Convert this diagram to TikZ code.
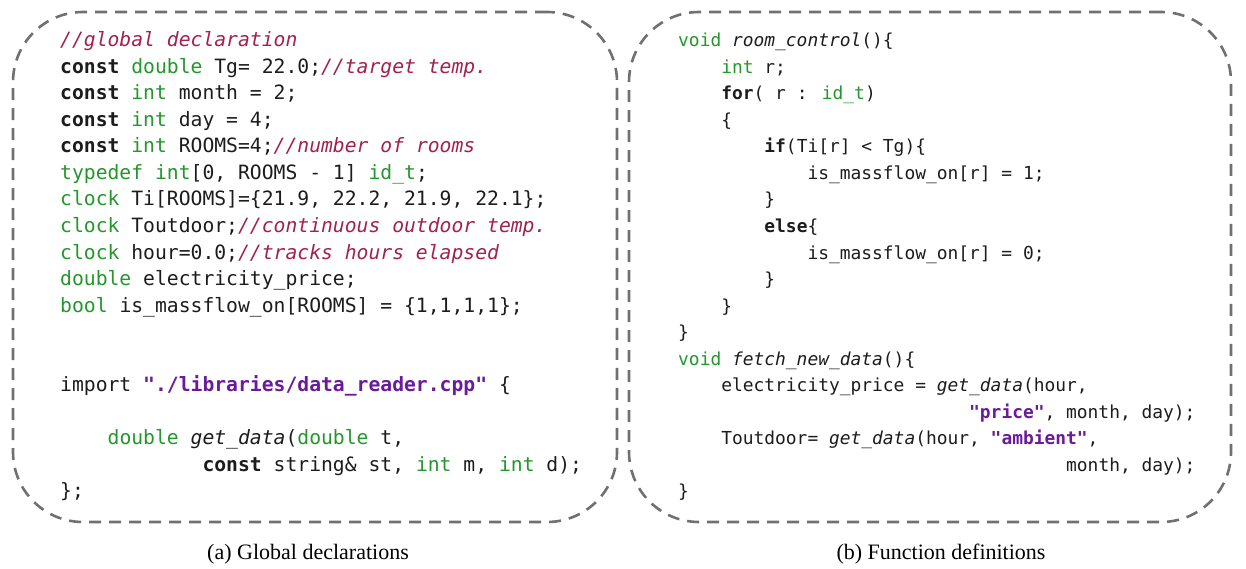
\documentclass[tikz,border=0pt]{standalone}
\usepackage{fontspec}
\setmainfont{Liberation Serif}
\newfontfamily\codefont[Ligatures=TeXOff]{DejaVu Sans Mono}

\definecolor{typegreen}{HTML}{23972B}
\definecolor{commentred}{HTML}{A3204F}
\definecolor{strpurple}{HTML}{6A1B9A}
\definecolor{codeink}{HTML}{1C1C1C}
\definecolor{boxgray}{HTML}{707070}

% syntax highlighting helpers
\newcommand\kw[1]{\textbf{#1}}
\newcommand\ty[1]{\textcolor{typegreen}{#1}}
\newcommand\cm[1]{\textcolor{commentred}{\textit{#1}}}
\newcommand\str[1]{\textcolor{strpurple}{\textbf{#1}}}
\newcommand\fn[1]{\textit{#1}}
\newlength\cw
\newcommand\ind[1]{\hspace*{#1\cw}}

\tikzset{
  codebox/.style={draw=boxgray, line width=2.6pt, dash pattern=on 12pt off 8pt,
    rounded corners=70pt, inner sep=0pt},
  codeA/.style={anchor=base west, inner sep=0pt, text=codeink,
    font=\codefont\fontsize{19.7}{26.5}\selectfont\settowidth{\cw}{0}},
  codeB/.style={anchor=base west, inner sep=0pt, text=codeink,
    font=\codefont\fontsize{17.9}{26.5}\selectfont\settowidth{\cw}{0}},
  caption/.style={anchor=base, inner sep=0pt, font=\fontsize{22}{26}\selectfont},
}

\begin{document}
\begin{tikzpicture}[x=1pt, y=-1pt]
\useasboundingbox (0,0) rectangle (1246,569);

% frames
\node[codebox, minimum width=604pt, minimum height=510pt] (boxA) at (315,267) {};
\node[codebox, minimum width=602pt, minimum height=510pt] (boxB) at (930,267) {};

% (a) global declarations
\node[codeA] (a1)  at (60,47)    {\cm{//global declaration}};
\node[codeA] (a2)  at (60,73.5)  {\kw{const} \ty{double} Tg= 22.0;\cm{//target temp.}};
\node[codeA] (a3)  at (60,100)   {\kw{const} \ty{int} month = 2;};
\node[codeA] (a4)  at (60,126.5) {\kw{const} \ty{int} day = 4;};
\node[codeA] (a5)  at (60,153)   {\kw{const} \ty{int} ROOMS=4;\cm{//number of rooms}};
\node[codeA] (a6)  at (60,179.5) {\ty{typedef int}[0, ROOMS - 1] \ty{id\_t};};
\node[codeA] (a7)  at (60,206)   {\ty{clock} Ti[ROOMS]=\{21.9, 22.2, 21.9, 22.1\};};
\node[codeA] (a8)  at (60,232.5) {\ty{clock} Toutdoor;\cm{//continuous outdoor temp.}};
\node[codeA] (a9)  at (60,259)   {\ty{clock} hour=0.0;\cm{//tracks hours elapsed}};
\node[codeA] (a10) at (60,285.5) {\ty{double} electricity\_price;};
\node[codeA] (a11) at (60,312)   {\ty{bool} is\_massflow\_on[ROOMS] = \{1,1,1,1\};};
\node[codeA] (a12) at (60,391.5) {import \str{"./libraries/data\_reader.cpp"} \{};
\node[codeA] (a13) at (60,444.5) {\ind{4}\ty{double} \fn{get\_data}(\ty{double} t,};
\node[codeA] (a14) at (60,471)   {\ind{12}\kw{const} string\& st, \ty{int} m, \ty{int} d);};
\node[codeA] (a15) at (60,497.5) {\};};

% (b) function definitions
\node[codeB] (b1)  at (678,47)    {\ty{void} \fn{room\_control}()\{};
\node[codeB] (b2)  at (678,73.5)  {\ind{4}\ty{int} r;};
\node[codeB] (b3)  at (678,100)   {\ind{4}\kw{for}( r : \ty{id\_t})};
\node[codeB] (b4)  at (678,126.5) {\ind{4}\{};
\node[codeB] (b5)  at (678,153)   {\ind{8}\kw{if}(Ti[r] < Tg)\{};
\node[codeB] (b6)  at (678,179.5) {\ind{12}is\_massflow\_on[r] = 1;};
\node[codeB] (b7)  at (678,206)   {\ind{8}\}};
\node[codeB] (b8)  at (678,232.5) {\ind{8}\kw{else}\{};
\node[codeB] (b9)  at (678,259)   {\ind{12}is\_massflow\_on[r] = 0;};
\node[codeB] (b10) at (678,285.5) {\ind{8}\}};
\node[codeB] (b11) at (678,312)   {\ind{4}\}};
\node[codeB] (b12) at (678,338.5) {\}};
\node[codeB] (b13) at (678,365)   {\ty{void} \fn{fetch\_new\_data}()\{};
\node[codeB] (b14) at (678,391.5) {\ind{4}electricity\_price = \fn{get\_data}(hour,};
\node[codeB] (b15) at (678,418)   {\ind{27}\str{"price"}, month, day);};
\node[codeB] (b16) at (678,444.5) {\ind{4}Toutdoor= \fn{get\_data}(hour, \str{"ambient"},};
\node[codeB] (b17) at (678,471)   {\ind{36}month, day);};
\node[codeB] (b18) at (678,497.5) {\}};

% captions
\node[caption] (capA) at (308,559) {(a) Global declarations};
\node[caption] (capB) at (941,559) {(b) Function definitions};
\end{tikzpicture}
\end{document}
